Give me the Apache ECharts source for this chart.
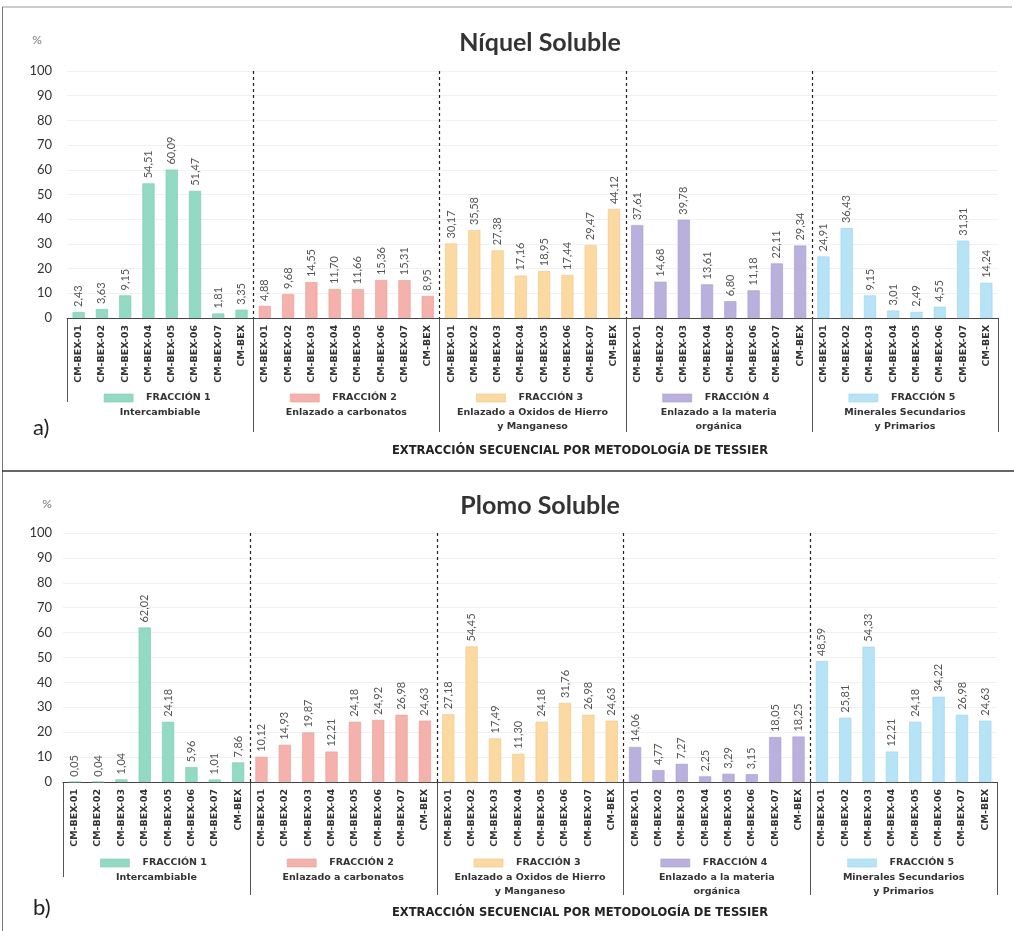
<!DOCTYPE html>
<html>
<head>
<meta charset="utf-8">
<script src="https://cdn.jsdelivr.net/npm/echarts@6/dist/echarts.min.js"></script>
<style>
  html, body { margin: 0; padding: 0; background: #fff; }
  #chart { width: 1014px; height: 931px; }
</style>
</head>
<body>
<div id="chart"></div>
<script>
// Samples within each fraction
const samples = ['CM-BEX-01', 'CM-BEX-02', 'CM-BEX-03', 'CM-BEX-04', 'CM-BEX-05', 'CM-BEX-06', 'CM-BEX-07', 'CM-BEX'];

// Tessier fractions
const fractionNames = ['FRACCIÓN 1', 'FRACCIÓN 2', 'FRACCIÓN 3', 'FRACCIÓN 4', 'FRACCIÓN 5'];
const fractionDescs = [
  ['Intercambiable'],
  ['Enlazado a carbonatos'],
  ['Enlazado a Oxidos de Hierro', 'y Manganeso'],
  ['Enlazado a la materia', 'orgánica'],
  ['Minerales Secundarios', 'y Primarios']
];
const fractionColors = ['#93dac5', '#f5b1ab', '#fcd9a1', '#bab0de', '#b6e3f6'];
const fractionBorders = ['#7cc8b2', '#e69c96', '#edc787', '#a79bcf', '#9dd3ea'];

// Y axis ticks (%)
const yTicks = [0, 10, 20, 30, 40, 50, 60, 70, 80, 90, 100];

// Níquel soluble (%)
const niquelF1 = [2.43, 3.63, 9.15, 54.51, 60.09, 51.47, 1.81, 3.35];
const niquelF2 = [4.88, 9.68, 14.55, 11.70, 11.66, 15.36, 15.31, 8.95];
const niquelF3 = [30.17, 35.58, 27.38, 17.16, 18.95, 17.44, 29.47, 44.12];
const niquelF4 = [37.61, 14.68, 39.78, 13.61, 6.80, 11.18, 22.11, 29.34];
const niquelF5 = [24.91, 36.43, 9.15, 3.01, 2.49, 4.55, 31.31, 14.24];

// Plomo soluble (%)
const plomoF1 = [0.05, 0.04, 1.04, 62.02, 24.18, 5.96, 1.01, 7.86];
const plomoF2 = [10.12, 14.93, 19.87, 12.21, 24.18, 24.92, 26.98, 24.63];
const plomoF3 = [27.18, 54.45, 17.49, 11.30, 24.18, 31.76, 26.98, 24.63];
const plomoF4 = [14.06, 4.77, 7.27, 2.25, 3.29, 3.15, 18.05, 18.25];
const plomoF5 = [48.59, 25.81, 54.33, 12.21, 24.18, 34.22, 26.98, 24.63];

const panelTitles = ['Níquel Soluble', 'Plomo Soluble'];
const panelLetters = ['a)', 'b)'];
const xAxisTitle = 'EXTRACCIÓN SECUENCIAL POR METODOLOGÍA DE TESSIER';

const panelData = [
  [niquelF1, niquelF2, niquelF3, niquelF4, niquelF5],
  [plomoF1, plomoF2, plomoF3, plomoF4, plomoF5]
];

const FONT = 'Lato, "Noto Sans", sans-serif';
const WIDE = '"DejaVu Sans", Verdana, sans-serif';

// Layout of the two panels
const panels = [
  { left: 67, right: 16, top: 71, height: 247, pctY: 40, titleY: 40, legendY: 398, leftEnd: 402, sepEnd: 432, letterY: 428, xTitleY: 451, yMargin: 15, pctX: 37 },
  { left: 63, right: 17, top: 533, height: 249, pctY: 504, titleY: 503, legendY: 863, leftEnd: 877, sepEnd: 895, letterY: 908, xTitleY: 913, yMargin: 11, pctX: 47 }
];

// Unique category keys (fraction:sample) so repeated sample names stay separate
const categoryKeys = [];
fractionNames.forEach((_, f) => samples.forEach(s => categoryKeys.push(f + ':' + s)));

const fmt = v => Number(v).toFixed(2).replace('.', ',');

const grids = [], xAxes = [], yAxes = [], series = [];
panels.forEach((p, pi) => {
  grids.push({ left: p.left, right: p.right, top: p.top, height: p.height });
  xAxes.push({
    type: 'category',
    gridIndex: pi,
    data: categoryKeys,
    axisLine: { lineStyle: { color: '#444', width: 1 } },
    axisTick: { show: false },
    axisLabel: {
      interval: 0,
      rotate: 90,
      margin: 7,
      fontFamily: WIDE,
      fontSize: 9.5,
      fontWeight: 'bold',
      color: '#333',
      formatter: v => v.split(':')[1]
    }
  });
  yAxes.push({
    type: 'value',
    gridIndex: pi,
    min: yTicks[0],
    max: yTicks[yTicks.length - 1],
    interval: 10,
    axisLine: { show: false },
    axisTick: { show: false },
    splitLine: { lineStyle: { color: '#f1f1f1', width: 1 } },
    axisLabel: { fontFamily: FONT, fontSize: 13, color: '#333', margin: p.yMargin }
  });
  panelData[pi].forEach((vals, f) => {
    const data = categoryKeys.map(() => '-');
    vals.forEach((v, i) => { data[f * samples.length + i] = v; });
    series.push({
      type: 'bar',
      name: fractionNames[f],
      xAxisIndex: pi,
      yAxisIndex: pi,
      stack: 'panel' + pi,
      barWidth: '52%',
      data: data,
      itemStyle: { color: fractionColors[f], borderColor: fractionBorders[f], borderWidth: 0.6 },
      label: {
        show: true,
        position: 'top',
        rotate: 90,
        align: 'left',
        verticalAlign: 'middle',
        distance: 5,
        fontFamily: FONT,
        fontSize: 11,
        color: '#555',
        formatter: prm => fmt(prm.value)
      },
      emphasis: { disabled: true },
      animation: false
    });
  });
});

const titles = [];
panels.forEach((p, pi) => {
  titles.push({
    text: panelTitles[pi], left: 535, top: p.titleY - 15, textAlign: 'center',
    textStyle: { fontFamily: FONT, fontSize: 25, fontWeight: 'bold', color: '#333' }
  });
});

const chart = echarts.init(document.getElementById('chart'), null, { renderer: 'canvas' });
chart.setOption({
  backgroundColor: '#fff',
  animation: false,
  title: titles,
  grid: grids,
  xAxis: xAxes,
  yAxis: yAxes,
  series: series
});

// Decorations: group separators, legend keys and panel captions placed from the axis scales
const graphics = [];
// Page frame
graphics.push({ type: 'line', shape: { x1: 2, y1: 7, x2: 1012, y2: 7 }, style: { stroke: '#999', lineWidth: 1 }, silent: true });
graphics.push({ type: 'line', shape: { x1: 2.5, y1: 7, x2: 2.5, y2: 931 }, style: { stroke: '#777', lineWidth: 1 }, silent: true });
graphics.push({ type: 'line', shape: { x1: 2, y1: 471, x2: 1014, y2: 471 }, style: { stroke: '#333', lineWidth: 1.6 }, silent: true });

panels.forEach((p, pi) => {
  const centerX = i => chart.convertToPixel({ xAxisIndex: pi }, categoryKeys[i]);
  const band = centerX(1) - centerX(0);
  const yTop = chart.convertToPixel({ yAxisIndex: pi }, 100);
  const yZero = chart.convertToPixel({ yAxisIndex: pi }, 0);
  const n = samples.length;

  const bounds = [];
  for (let f = 0; f <= fractionNames.length; f++) {
    bounds.push(f * n < categoryKeys.length ? centerX(f * n) - band / 2 : centerX(categoryKeys.length - 1) + band / 2);
  }

  bounds.forEach((x, k) => {
    const xr = Math.round(x) + 0.5;
    if (k > 0 && k < bounds.length - 1) {
      graphics.push({ type: 'line', shape: { x1: xr, y1: yTop, x2: xr, y2: yZero }, style: { stroke: '#222', lineWidth: 1.2, lineDash: [3, 3] }, silent: true });
    }
    const end = k === 0 ? p.leftEnd : p.sepEnd;
    graphics.push({ type: 'line', shape: { x1: xr, y1: yZero, x2: xr, y2: end }, style: { stroke: '#555', lineWidth: 1 }, silent: true });
  });

  fractionNames.forEach((name, f) => {
    const cx = (bounds[f] + bounds[f + 1]) / 2;
    graphics.push({ type: 'rect', shape: { x: cx - 56, y: p.legendY - 4, width: 29, height: 8 }, style: { fill: fractionColors[f], stroke: fractionBorders[f], lineWidth: 0.6 }, silent: true });
    graphics.push({ type: 'text', x: cx - 14, y: p.legendY, style: { text: name, fontFamily: WIDE, fontSize: 9.5, fontWeight: 'bold', fill: '#333', textAlign: 'left', textVerticalAlign: 'middle' }, silent: true });
    fractionDescs[f].forEach((line, li) => {
      graphics.push({ type: 'text', x: cx, y: p.legendY + 15 + li * 14, style: { text: line, fontFamily: WIDE, fontSize: 9.5, fontWeight: 'bold', fill: '#333', textAlign: 'center', textVerticalAlign: 'middle' }, silent: true });
    });
  });

  graphics.push({ type: 'text', x: p.pctX, y: p.pctY, style: { text: '%', fontFamily: FONT, fontSize: 12, fill: '#777', textAlign: 'center', textVerticalAlign: 'middle' }, silent: true });
  graphics.push({ type: 'text', x: 33, y: p.letterY, style: { text: panelLetters[pi], fontFamily: FONT, fontSize: 22, fill: '#222', textAlign: 'left', textVerticalAlign: 'middle' }, silent: true });
  graphics.push({ type: 'text', x: 580, y: p.xTitleY, style: { text: xAxisTitle, fontFamily: WIDE, fontSize: 11.5, fontWeight: 'bold', fill: '#222', textAlign: 'center', textVerticalAlign: 'middle' }, silent: true });
});

chart.setOption({ graphic: graphics });
</script>
</body>
</html>
